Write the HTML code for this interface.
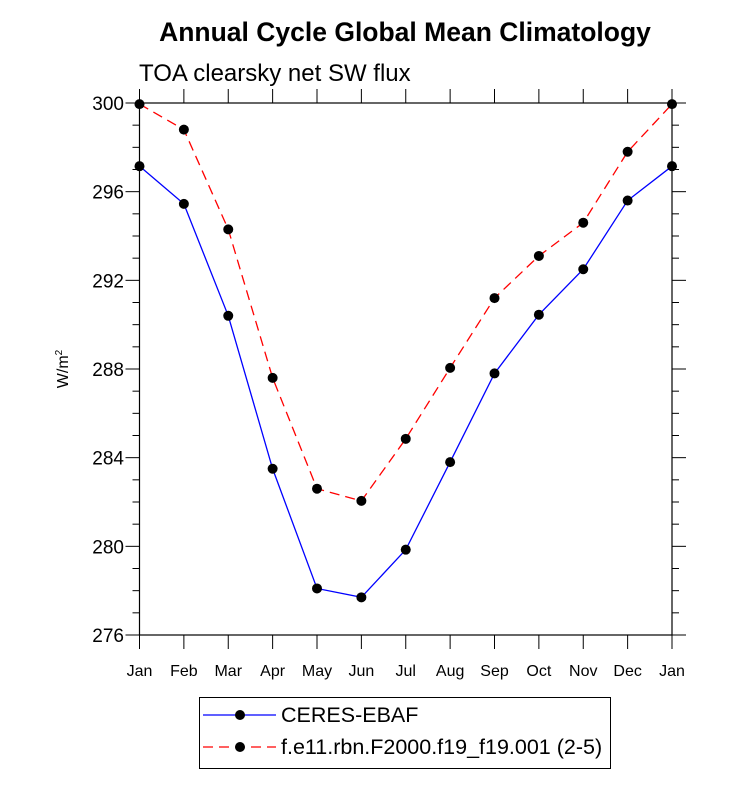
<!DOCTYPE html>
<html><head><meta charset="utf-8"><style>
body{margin:0;background:#fff}
svg text{font-family:"Liberation Sans",Arial,sans-serif}
</style></head><body>
<svg id="chart" width="733" height="789" xmlns="http://www.w3.org/2000/svg">
<text x="405" y="41" text-anchor="middle" font-size="26.5" font-weight="bold">Annual Cycle Global Mean Climatology</text>
<text x="139" y="81" font-size="24">TOA clearsky net SW flux</text>
<text transform="translate(68,369) rotate(-90)" text-anchor="middle" font-size="16">W/m<tspan font-size="10" dy="-6">2</tspan></text>
<g id="axes"></g>
<g id="series"></g>
<g>
<rect x="199.5" y="697.5" width="411" height="71" fill="#fff" stroke="#000" stroke-width="1"/>
<line x1="203" y1="715" x2="276" y2="715" stroke="#00f" stroke-width="1.3"/>
<circle cx="240" cy="715" r="5" fill="#000"/>
<text x="281" y="722" font-size="21.5">CERES-EBAF</text>
<line x1="203" y1="747" x2="276" y2="747" stroke="#f00" stroke-width="1.3" stroke-dasharray="10,6"/>
<circle cx="240" cy="747" r="5" fill="#000"/>
<text x="281" y="754" font-size="21.5">f.e11.rbn.F2000.f19_f19.001 (2-5)</text>
</g>
</svg>
<script>
const months=["Jan","Feb","Mar","Apr","May","Jun","Jul","Aug","Sep","Oct","Nov","Dec","Jan"];
const ceres=[297.15,295.45,290.4,283.5,278.1,277.7,279.85,283.8,287.8,290.45,292.5,295.6,297.15];
const model=[299.95,298.8,294.3,287.6,282.6,282.05,284.85,288.05,291.2,293.1,294.6,297.8,299.95];
const yTicks=[276,280,284,288,292,296,300];
const L=139.5,R=672,T=103,B=635,ymin=276,ymax=300;
const xs=i=>L+(R-L)*i/(months.length-1);
const ys=v=>B-(B-T)*(v-ymin)/(ymax-ymin);
const NS="http://www.w3.org/2000/svg";
function mk(tag,attrs,parent){const e=document.createElementNS(NS,tag);for(const k in attrs)e.setAttribute(k,attrs[k]);parent.appendChild(e);return e;}
const ax=document.getElementById('axes');
const frame=mk('rect',{x:L,y:T,width:R-L,height:B-T,fill:'none',stroke:'#000','stroke-width':1.2},ax);


for(let v=ymin;v<=ymax;v++){
  const major=yTicks.includes(v);const len=major?14:7;const y=ys(v);
  mk('line',{x1:L-len,y1:y,x2:L,y2:y,stroke:'#000','stroke-width':1},ax);
  mk('line',{x1:R,y1:y,x2:R+len,y2:y,stroke:'#000','stroke-width':1},ax);
}
yTicks.forEach(v=>{const t=mk('text',{x:124,y:ys(v)+7,'text-anchor':'end','font-size':19},ax);t.textContent=v;

});
months.forEach((m,i)=>{const x=xs(i);
  mk('line',{x1:x,y1:B,x2:x,y2:B+14,stroke:'#000','stroke-width':1},ax);
  mk('line',{x1:x,y1:T-14,x2:x,y2:T,stroke:'#000','stroke-width':1},ax);
  const t=mk('text',{x:x,y:676,'text-anchor':'middle','font-size':16},ax);t.textContent=m;
  
  });
const sg=document.getElementById('series');
function draw(vals,color,dash,name){
  const p=mk('polyline',{points:vals.map((v,i)=>xs(i)+','+ys(v)).join(' '),fill:'none',stroke:color,'stroke-width':1.3},sg);
  if(dash)p.setAttribute('stroke-dasharray',dash);
  
  
  vals.forEach((v,i)=>{const c=mk('circle',{cx:xs(i),cy:ys(v),r:5,fill:'#000'},sg);
    
    });
}
draw(model,'#f00','10,6','model');
draw(ceres,'#00f',null,'ceres');
</script>
</body></html>
